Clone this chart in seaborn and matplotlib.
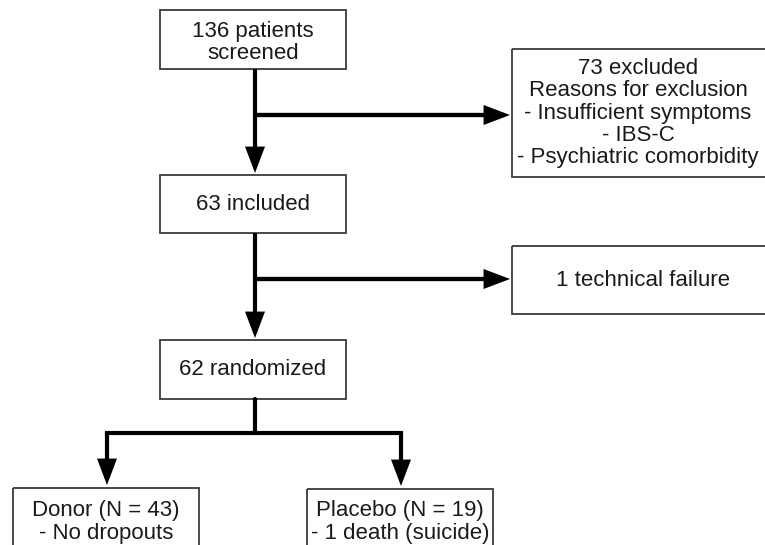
import matplotlib
matplotlib.use("Agg")
import matplotlib.pyplot as plt
from matplotlib.patches import Rectangle
import seaborn as sns

# ---- chart content ----
main_labels = ["136 patients\nscreened", "63 included", "62 randomized"]
side_labels = ["73 excluded\nReasons for exclusion\n- Insufficient symptoms\n- IBS-C\n- Psychiatric comorbidity",
               "1 technical failure"]
arm_labels = ["Donor (N = 43)\n- No dropouts", "Placebo (N = 19)\n- 1 death (suicide)"]

# ---- layout (pixel coordinates, y downwards) ----
W, H = 765, 545
main_boxes = [(160, 10, 186, 59), (160, 175, 186, 58), (160, 340, 186, 59)]
side_boxes = [(512, 49, 258, 128), (512, 246, 258, 68)]
arm_boxes = [(13, 488, 186, 80), (307, 489, 186, 80)]
trunk_x = 255
branch_y = [115, 279]
split_y = 433
arm_x = [107, 401]

sns.set_theme(style="white")
plt.rcParams['font.family'] = ['Liberation Sans', 'DejaVu Sans']

fig = plt.figure(figsize=(W / 100, H / 100), dpi=100)
ax = fig.add_axes([0, 0, 1, 1])
ax.set_xlim(0, W)
ax.set_ylim(H, 0)
ax.axis("off")

LINE = "#000000"
EDGE = "#3a3a3a"
TXT = "#1a1a1a"
FS = 16.0
LS = 1.07
LW = 3.0

def box(rect, label, cx=None, cy=None):
    x, y, w, h = rect
    ax.add_patch(Rectangle((x, y), w, h, fill=False, edgecolor=EDGE, linewidth=1.3, zorder=2))
    ax.text(x + w / 2 if cx is None else cx, y + h / 2 if cy is None else cy, label,
            ha="center", va="center", fontsize=FS, color=TXT, linespacing=LS, zorder=3)

arrow_style = dict(arrowstyle="-|>,head_length=0.95,head_width=0.36", color=LINE,
                   linewidth=LW, mutation_scale=14, shrinkA=0, shrinkB=0,
                   joinstyle="miter", capstyle="butt")

def arrow(x0, y0, x1, y1):
    ax.annotate("", xy=(x1, y1), xytext=(x0, y0), arrowprops=arrow_style, zorder=4)

box(main_boxes[0], main_labels[0], cy=42.5)
box(main_boxes[1], main_labels[1])
box(main_boxes[2], main_labels[2])
box(side_boxes[0], side_labels[0], cx=638, cy=113)
box(side_boxes[1], side_labels[1], cx=643)
box(arm_boxes[0], arm_labels[0], cy=522)
box(arm_boxes[1], arm_labels[1], cy=522)

# main trunk arrows
for i in range(2):
    top = main_boxes[i][1] + main_boxes[i][3]
    nxt = main_boxes[i + 1][1]
    arrow(trunk_x, top, trunk_x, nxt - 2)
    # side branches
    ax.plot([trunk_x - 1.5, side_boxes[i][0] - 12], [branch_y[i], branch_y[i]], color=LINE,
            linewidth=LW, solid_capstyle="butt", zorder=3)
    arrow(trunk_x, branch_y[i], side_boxes[i][0] - 2, branch_y[i])

# randomisation split
r_bottom = main_boxes[2][1] + main_boxes[2][3]
ax.plot([trunk_x, trunk_x], [r_bottom, split_y], color=LINE, linewidth=LW, zorder=3)
ax.plot([arm_x[0], arm_x[1]], [split_y, split_y], color=LINE, linewidth=LW,
        solid_capstyle="projecting", zorder=3)
for xa, rect in zip(arm_x, arm_boxes):
    arrow(xa, split_y, xa, rect[1] - 3)

fig.savefig("out.png", dpi=100, facecolor="white")
